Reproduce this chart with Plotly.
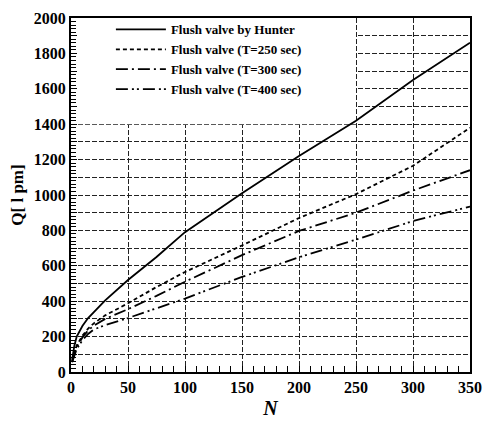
import plotly.graph_objects as go

N_pts = [1, 3, 5, 10, 15, 20, 30, 50, 75, 100, 150, 200, 250, 300, 350]
Q_hunter = [70, 150, 200, 260, 305, 340, 405, 520, 650, 790, 1010, 1220, 1420, 1650, 1860]
Q_t250 = [60, 100, 150, 205, 245, 275, 320, 388, 480, 565, 715, 870, 1005, 1165, 1380]
Q_t300 = [60, 95, 140, 195, 235, 262, 300, 355, 430, 510, 660, 797, 900, 1025, 1140]
Q_t400 = [55, 90, 130, 180, 215, 240, 265, 305, 360, 415, 537, 648, 748, 853, 935]

names = ["Flush valve by Hunter", "Flush valve (T=250 sec)",
         "Flush valve (T=300 sec)", "Flush valve (T=400 sec)"]
dashes = ["solid", "4px,3px", "12px,4px,2px,4px", "12px,4px,2px,3px,2px,4px"]
series = [Q_hunter, Q_t250, Q_t300, Q_t400]

y_tickvals = list(range(0, 2001, 100))
y_ticktext = [str(v) if v % 200 == 0 else "" for v in y_tickvals]

FONT = "Liberation Serif"

fig = go.Figure()
for nm, ys, d in zip(names, series, dashes):
    fig.add_trace(go.Scatter(x=N_pts, y=ys, mode="lines", name=nm,
                             line=dict(color="black", width=1.8, dash=d)))

# white box behind legend (covers grid)
fig.add_shape(type="rect", xref="x", yref="y", x0=0, x1=250, y0=1400, y1=2000,
              fillcolor="white", line=dict(width=0), layer="between")

axis_common = dict(showline=True, linecolor="black", linewidth=2, mirror=True,
                   showgrid=True, gridcolor="#222", gridwidth=1, griddash="5px,2px",
                   ticks="inside", ticklen=6, tickcolor="black", zeroline=False,
                   tickfont=dict(family=FONT, size=16, color="black", weight="bold"))

fig.update_xaxes(range=[0, 350], dtick=50, tick0=0,
                 minor=dict(dtick=10, ticks="inside", ticklen=6, tickcolor="black", showgrid=False),
                 title=dict(text="<i>N</i>", font=dict(family=FONT, size=20, color="black", weight="bold"), standoff=6),
                 **axis_common)
fig.update_yaxes(range=[0, 2000], tickmode="array", tickvals=y_tickvals, ticktext=y_ticktext,
                 minor=dict(dtick=20, ticks="inside", ticklen=5, tickcolor="black", showgrid=False),
                 title=dict(text="Q[ l pm]", font=dict(family=FONT, size=17, color="black", weight="bold"), standoff=6),
                 **axis_common)

fig.update_layout(
    width=492, height=439,
    margin=dict(l=71, r=16, t=10, b=67),
    plot_bgcolor="white", paper_bgcolor="white",
    showlegend=True,
    legend=dict(x=0.10, y=1.01, xanchor="left", yanchor="top", bgcolor="rgba(0,0,0,0)",
                borderwidth=0, tracegroupgap=0, itemwidth=50,
                font=dict(family=FONT, size=13, color="black", weight="bold")),
)
fig.write_html("out.html")
